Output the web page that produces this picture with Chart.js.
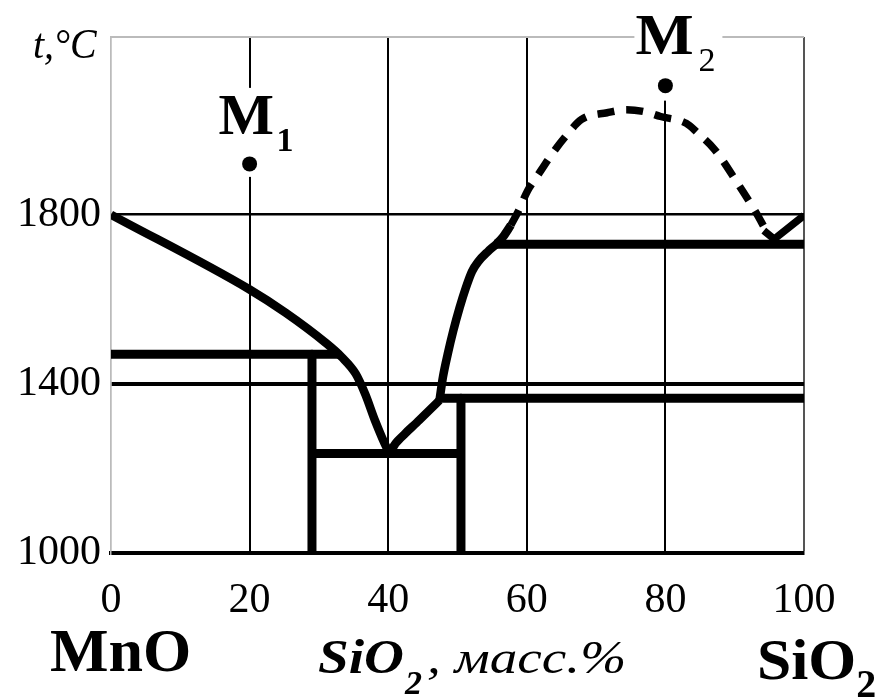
<!DOCTYPE html>
<html>
<head>
<meta charset="utf-8">
<script src="https://cdn.jsdelivr.net/npm/chart.js@4"></script>
<style>
  html, body { margin: 0; padding: 0; background: #fff; }
</style>
</head>
<body>
<canvas id="chartCanvas" width="882" height="698"></canvas>
<script>
const xTicks = [0, 20, 40, 60, 80, 100];
const yTicks = [1000, 1400, 1800];

// liquidus, MnO side down to the eutectic
const liquidusLeft = [[0, 1800], [20, 1623], [25.2, 1568], [30.9, 1498],
  [33.3, 1463], [35.3, 1424], [36.7, 1375], [38.1, 1313], [39.8, 1248], [40.3, 1234]];
// eutectic up to the peritectic kink
const liquidusMid = [[40.3, 1234], [40.5, 1244], [42.3, 1280], [44.1, 1308], [45.9, 1337], [47.4, 1361]];
// steep branch towards the miscibility gap
const liquidusRight = [[47.4, 1361], [47.9, 1416], [48.6, 1471], [49.4, 1526], [50.3, 1580], [51.2, 1627],
  [52.1, 1666], [53.0, 1689], [54.4, 1713], [55.7, 1732], [56.6, 1748], [57.7, 1775]];
// miscibility gap (dashed)
const domeDashed = [[57.7, 1775], [58.8, 1809], [60.1, 1856], [61.5, 1891], [63.8, 1947], [65.6, 1985],
  [67.9, 2025], [71.6, 2041], [74.4, 2048], [77.1, 2043], [79.3, 2032], [83.0, 2016], [84.6, 1994],
  [87.1, 1954], [90.3, 1877], [93.0, 1807], [94.6, 1760]];
const sio2End = [[94.2, 1762], [95.7, 1742], [100, 1798]];

const solidus1470 = [[0, 1470], [32.8, 1470]];
const wall29 = [[29, 1470], [29, 1000]];
const eutecticLine = [[29, 1235], [50.5, 1235]];
const wall50 = [[50.5, 1366], [50.5, 1000]];
const solidus1366 = [[47.2, 1366], [100, 1366]];
const solidus1730 = [[55.3, 1730], [100, 1730]];

const pointM1 = [[20, 1920]];
const pointM2 = [[80, 2105]];

const xy = arr => arr.map(([x, y]) => ({ x, y }));

function line(data, width, opts) {
  return Object.assign({
    data: xy(data),
    borderColor: '#000',
    backgroundColor: '#000',
    borderWidth: width,
    borderJoinStyle: 'round',
    pointRadius: 0,
    tension: 0,
    fill: false
  }, opts || {});
}

function dot(data) {
  return {
    data: xy(data),
    showLine: false,
    pointRadius: 7.5,
    pointBackgroundColor: '#000',
    pointBorderWidth: 0
  };
}

function txt(c, s, x, y, font, sx) {
  c.save();
  c.font = font;
  c.fillStyle = '#000';
  c.textBaseline = 'alphabetic';
  c.translate(x, y);
  c.scale(sx || 1, 1);
  c.fillText(s, 0, 0);
  const w = c.measureText(s).width * (sx || 1);
  c.restore();
  return w;
}

const serif = "'Liberation Serif', 'Times New Roman', serif";

const decor = {
  id: 'decor',
  beforeDatasetsDraw(chart) {
    const c = chart.ctx, a = chart.chartArea;
    const xs = chart.scales.x, ys = chart.scales.y;
    const m1x = xs.getPixelForValue(pointM1[0][0]), m1y = ys.getPixelForValue(pointM1[0][1]);
    const m2x = xs.getPixelForValue(pointM2[0][0]), m2y = ys.getPixelForValue(pointM2[0][1]);
    c.save();
    c.fillStyle = '#fff';
    // grid breaks behind the point labels
    c.fillRect(m1x - 4, m1y - 76, 8, 89);
    c.fillRect(m2x - 4, a.top - 2, 8, m2y - a.top + 17);
    // top frame with a break for M2
    c.strokeStyle = '#bbb';
    c.lineWidth = 2;
    c.beginPath();
    c.moveTo(a.left, a.top); c.lineTo(m2x - 31, a.top);
    c.moveTo(m2x + 57, a.top); c.lineTo(a.right, a.top);
    c.stroke();
    c.restore();
  },
  afterDraw(chart) {
    const c = chart.ctx;
    const xs = chart.scales.x, ys = chart.scales.y;
    const m1x = xs.getPixelForValue(pointM1[0][0]), m1y = ys.getPixelForValue(pointM1[0][1]);
    const m2x = xs.getPixelForValue(pointM2[0][0]), m2y = ys.getPixelForValue(pointM2[0][1]);

    txt(c, 't,°C', 33, 58, 'italic 42px ' + serif, 0.95);

    txt(c, 'M', m1x - 31, m1y - 30, 'bold 56px ' + serif, 1.05);
    txt(c, '1', m1x + 27, m1y - 13, 'bold 34px ' + serif);
    txt(c, 'M', m2x - 30, m2y - 32, 'bold 56px ' + serif, 1.1);
    txt(c, '2', m2x + 33, m2y - 15, '34px ' + serif);

    txt(c, 'MnO', 50, 671, 'bold 62px ' + serif);

    let x = 318;
    x += txt(c, 'SiO', x, 673, 'bold italic 48px ' + serif, 1.15);
    x += txt(c, '2', x + 1, 694, 'bold italic 34px ' + serif) + 6;
    txt(c, ', масс.%', x, 673, 'italic 46px ' + serif, 1.2);

    const w = txt(c, 'SiO', 757, 679, 'bold 56px ' + serif, 1.1);
    txt(c, '2', 757 + w, 697, 'bold 40px ' + serif);
  }
};

const ctx = document.getElementById('chartCanvas').getContext('2d');

new Chart(ctx, {
  type: 'line',
  data: {
    datasets: [
      line(solidus1470, 9),
      line(wall29, 9),
      line(eutecticLine, 9),
      line(wall50, 9),
      line(solidus1366, 9),
      line(solidus1730, 9),
      line(liquidusLeft, 8.5, { cubicInterpolationMode: 'monotone' }),
      line(liquidusMid, 8.5, { cubicInterpolationMode: 'monotone' }),
      line(liquidusRight, 8.5, { cubicInterpolationMode: 'monotone' }),
      line(domeDashed, 7.5, { borderDash: [17, 12], cubicInterpolationMode: 'monotone' }),
      line(sio2End, 7.5),
      dot(pointM1),
      dot(pointM2)
    ]
  },
  options: {
    responsive: false,
    animation: false,
    layout: { padding: { top: 37, right: 78, left: 0, bottom: 0 } },
    plugins: {
      legend: { display: false },
      tooltip: { enabled: false }
    },
    scales: {
      x: {
        type: 'linear',
        min: 0,
        max: 100,
        afterFit: s => { s.height = 145; },
        afterBuildTicks: s => { s.ticks = xTicks.map(v => ({ value: v })); },
        border: { display: true, color: '#000', width: 4 },
        grid: {
          drawTicks: false,
          color: c => c.tick.value === 0 ? '#bbb' : (c.tick.value === 100 ? '#555' : '#000'),
          lineWidth: c => c.tick.value === 0 ? 1.5 : 2
        },
        ticks: {
          color: '#000', padding: 23, maxRotation: 0,
          font: { family: serif, size: 42 },
          callback: v => String(v)
        }
      },
      y: {
        type: 'linear',
        min: 1000,
        max: 2220,
        afterFit: s => { s.width = 111; },
        afterBuildTicks: s => { s.ticks = yTicks.map(v => ({ value: v })); },
        border: { display: true, color: '#bbb', width: 1.5 },
        grid: {
          drawTicks: false,
          color: '#000',
          lineWidth: c => c.tick.value === 1400 ? 4 : (c.tick.value === 1000 ? 4 : 2.5)
        },
        ticks: {
          color: '#000', padding: 10,
          font: { family: serif, size: 42 },
          callback: v => String(v)
        }
      }
    }
  },
  plugins: [decor]
});
</script>
</body>
</html>
